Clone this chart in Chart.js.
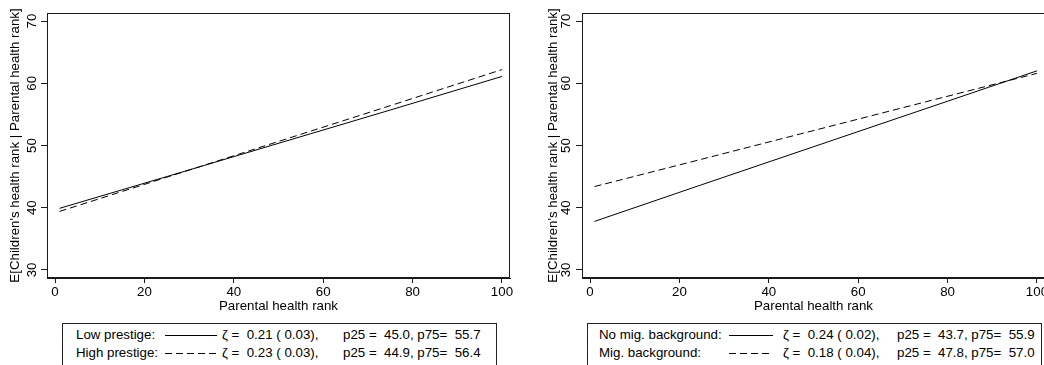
<!DOCTYPE html>
<html>
<head>
<meta charset="utf-8">
<script src="https://cdn.jsdelivr.net/npm/chart.js@4/dist/chart.umd.min.js"></script>
<style>
  body { margin: 0; width: 1044px; height: 365px; overflow: hidden; background: #fff; position: relative;
         font-family: "Liberation Sans", Arial, sans-serif; }
  canvas { position: absolute; top: 0; }
  #leftChart { left: 0; }
  #rightChart { left: 520px; }
  .legend { position: absolute; top: 323px; height: 60px; border: 1px solid #222; box-sizing: border-box; }
  .txt { position: absolute; font-size: 13.3px; line-height: 18px; white-space: pre; color: #000; }
  .sample { position: absolute; height: 18px; }
</style>
</head>
<body>
<canvas id="leftChart" width="520" height="320"></canvas>
<canvas id="rightChart" width="540" height="320"></canvas>
<script>
// axes
const xTicks = [0, 20, 40, 60, 80, 100];
const yTicks = [30, 40, 50, 60, 70];
const yTitle = "E[Children's health rank | Parental health rank]";
const xTitle = "Parental health rank";

// fitted lines, read at rank 1, 25, 75, 100
const rankPoints = [1, 25, 75, 100];
const lowPrestige = [39.9, 45.0, 55.7, 61.1];
const highPrestige = [39.4, 44.9, 56.4, 62.2];
const noMigBackground = [37.8, 43.7, 55.9, 62.0];
const migBackground = [43.4, 47.8, 57.0, 61.6];

// legend text
const leftLabels = ["Low prestige:", "High prestige:"];
const leftZeta = ["\u03b6 =  0.21 ( 0.03),", "\u03b6 =  0.23 ( 0.03),"];
const leftPct = ["p25 =  45.0, p75=  55.7", "p25 =  44.9, p75=  56.4"];
const rightLabels = ["No mig. background:", "Mig. background:"];
const rightZeta = ["\u03b6 =  0.24 ( 0.02),", "\u03b6 =  0.18 ( 0.04),"];
const rightPct = ["p25 =  43.7, p75=  55.9", "p25 =  47.8, p75=  57.0"];

const INK = "#1a1a1a";
const FONT = { family: "'Liberation Sans', Arial, sans-serif", size: 13.3 };

// full box round the plot region
const frame = {
  id: "frame",
  afterDraw(chart) {
    const { ctx, chartArea: a } = chart;
    ctx.save();
    ctx.strokeStyle = INK;
    ctx.lineWidth = 1;
    ctx.strokeRect(Math.round(a.left) + 0.5, Math.round(a.top) + 0.5,
      Math.round(a.right - a.left) - 1, Math.round(a.bottom - a.top) - 1);
    ctx.restore();
  },
};

function toPoints(values) {
  return rankPoints.map((x, i) => ({ x: x, y: values[i] }));
}

function makePanel(id, solid, dashed, cfg) {
  return new Chart(document.getElementById(id), {
    type: "scatter",
    data: {
      datasets: [
        { data: toPoints(solid), showLine: true, borderColor: "#000", borderWidth: 1, pointRadius: 0 },
        { data: toPoints(dashed), showLine: true, borderColor: "#000", borderWidth: 1, borderDash: [7, 4], pointRadius: 0 },
      ],
    },
    options: {
      responsive: false,
      animation: false,
      events: [],
      layout: { padding: { top: 13, right: cfg.padRight, left: 0, bottom: 0 } },
      plugins: { legend: { display: false }, tooltip: { enabled: false } },
      scales: {
        x: {
          type: "linear",
          min: -1.8,
          max: 101.8,
          afterBuildTicks: (s) => { s.ticks = xTicks.map((v) => ({ value: v })); },
          afterFit: (s) => { s.height = 42; },
          grid: { drawOnChartArea: false, color: INK, tickLength: 5 },
          border: { color: INK },
          ticks: { color: "#000", font: FONT, padding: 1, maxRotation: 0 },
          title: { display: true, text: xTitle, color: "#000", font: FONT, padding: { top: 0, bottom: 6 } },
        },
        y: {
          min: 28.7,
          max: 71.3,
          afterBuildTicks: (s) => { s.ticks = yTicks.map((v) => ({ value: v })); },
          afterFit: (s) => { s.width = cfg.yWidth; },
          grid: { drawOnChartArea: false, color: INK, tickLength: 6 },
          border: { color: INK },
          ticks: { color: "#000", font: FONT, padding: cfg.tickPad, minRotation: 90, maxRotation: 90, crossAlign: "center" },
          title: { display: true, text: yTitle, color: "#000", font: FONT, padding: { top: cfg.titlePad, bottom: 0 } },
        },
      },
    },
    plugins: [frame],
  });
}

makePanel("leftChart", lowPrestige, highPrestige, { padRight: 10, yWidth: 47, tickPad: 1, titlePad: 7 });
makePanel("rightChart", noMigBackground, migBackground, { padRight: 15, yWidth: 62, tickPad: 2, titlePad: 25 });

// legend boxes below each panel
function addText(x, y, text) {
  const el = document.createElement("div");
  el.className = "txt";
  el.style.left = x + "px";
  el.style.top = y + "px";
  el.textContent = text;
  document.body.appendChild(el);
}

function addSample(x1, x2, y, dashed) {
  const w = x2 - x1;
  const svg = document.createElementNS("http://www.w3.org/2000/svg", "svg");
  svg.setAttribute("class", "sample");
  svg.setAttribute("width", w);
  svg.setAttribute("height", 18);
  svg.style.left = x1 + "px";
  svg.style.top = y + "px";
  const ln = document.createElementNS("http://www.w3.org/2000/svg", "line");
  ln.setAttribute("x1", 0);
  ln.setAttribute("x2", w);
  ln.setAttribute("y1", 9.5);
  ln.setAttribute("y2", 9.5);
  ln.setAttribute("stroke", "#000");
  ln.setAttribute("stroke-width", 1);
  if (dashed) ln.setAttribute("stroke-dasharray", "7 4");
  svg.appendChild(ln);
  document.body.appendChild(svg);
}

function addLegend(box, cols, labels, zeta, pct) {
  const el = document.createElement("div");
  el.className = "legend";
  el.style.left = box[0] + "px";
  el.style.width = (box[1] - box[0]) + "px";
  document.body.appendChild(el);
  const rows = [325.5, 344];
  rows.forEach((y, i) => {
    addText(cols[0], y, labels[i]);
    addSample(cols[1], cols[2], y, i === 1);
    addText(cols[3], y, zeta[i]);
    addText(cols[4], y, pct[i]);
  });
}

addLegend([62, 497], [76, 165, 217, 222, 343], leftLabels, leftZeta, leftPct);
addLegend([587, 1042], [599, 729, 773, 783, 897], rightLabels, rightZeta, rightPct);
</script>
</body>
</html>
